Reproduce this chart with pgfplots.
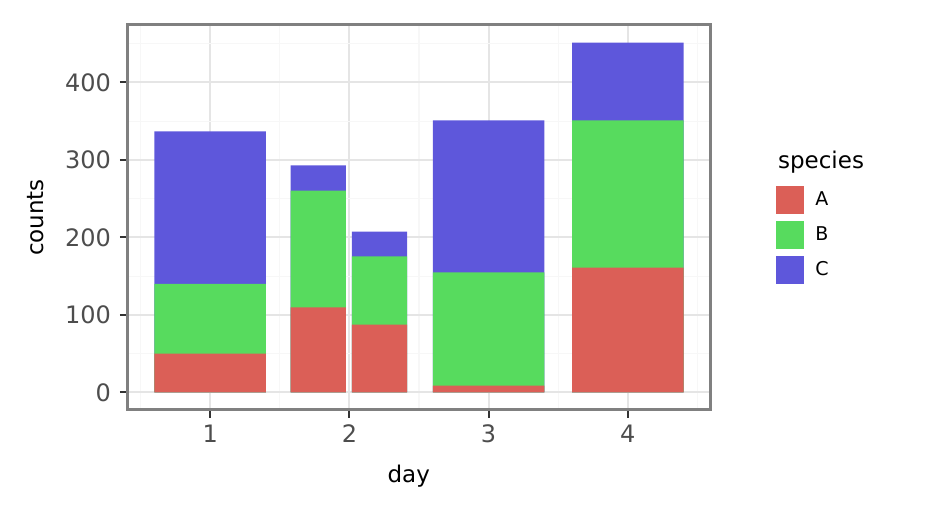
\documentclass[border=0pt]{standalone}
\usepackage{fontspec}
\setmainfont{DejaVu Sans}
\usepackage{pgfplots}
\pgfplotsset{compat=1.18}

\definecolor{cA}{HTML}{DB5F57}
\definecolor{cB}{HTML}{57DB5E}
\definecolor{cC}{HTML}{5E57DB}
\definecolor{tickgray}{HTML}{4D4D4D}

\begin{document}
\begin{tikzpicture}
\path[use as bounding box] (0,0) rectangle (467pt,257.5pt);
\begin{axis}[
    at={(64pt,52.5pt)}, anchor=south west,
    scale only axis,
    width=291pt, height=192.5pt,
    xmin=0.41, xmax=4.59,
    ymin=-22.6, ymax=474.2,
    clip=false,
    xtick={1,2,3,4},
    ytick={0,100,200,300,400},
    minor xtick={0.5,1.5,2.5,3.5,4.5},
    minor ytick={50,150,250,350,450},
    xtick pos=bottom, ytick pos=left,
    tick align=outside,
    major tick length=4pt,
    minor tick length=0pt,
    major tick style={color=black!80, line width=1pt},
    grid=both,
    major grid style={color=black!10, line width=1pt},
    minor grid style={color=black!3, line width=0.6pt},
    axis line style={color=black!50, line width=1.5pt},
    /pgf/number format/assume math mode=true,
    ticklabel style={font=\fontsize{12}{14}\selectfont, text=tickgray},
    yticklabel style={xshift=-1pt},
    label style={font=\fontsize{11.5}{14}\selectfont},
    xlabel={day}, ylabel={counts},
    xlabel style={at={(rel axis cs:0.4823,-0.1896)}, anchor=base},
    ylabel style={at={(rel axis cs:-0.158,0.5)}, anchor=center},
    ybar, bar shift=0pt,
    legend image code/.code={\fill[#1] (0pt,-7pt) rectangle (14pt,7pt);},
    legend cell align=left,
    legend style={draw=none, fill=none, at={(rel axis cs:1.1134,0.5818)}, anchor=north west,
        inner sep=0pt, row sep=3.4pt, column sep=5.5pt,
        nodes={inner sep=0pt, font=\fontsize{9.5}{11}\selectfont}},
]
% cumulative tops: A+B+C (drawn first), A+B, A
\addplot[fill=cC, draw=none, bar width=0.8, forget plot] coordinates {(1,337) (3,351) (4,451.6)};
\addplot[fill=cB, draw=none, bar width=0.8, forget plot] coordinates {(1,140) (3,155) (4,351)};
\addplot[fill=cA, draw=none, bar width=0.8, forget plot] coordinates {(1,50) (3,9) (4,161)};
\addplot[fill=cC, draw=none, bar width=0.396, forget plot] coordinates {(1.776,293) (2.216,207.7)};
\addplot[fill=cB, draw=none, bar width=0.396, forget plot] coordinates {(1.776,260.6) (2.216,175.5)};
\addplot[fill=cA, draw=none, bar width=0.396, forget plot] coordinates {(1.776,109.7) (2.216,87.7)};
\addlegendimage{fill=cA, draw=none}\addlegendentry{A}
\addlegendimage{fill=cB, draw=none}\addlegendentry{B}
\addlegendimage{fill=cC, draw=none}\addlegendentry{C}
\node[anchor=base west, inner sep=0pt, font=\fontsize{11.5}{14}\selectfont] at (rel axis cs:1.1163,0.626) {species};
\end{axis}
\end{tikzpicture}
\end{document}
